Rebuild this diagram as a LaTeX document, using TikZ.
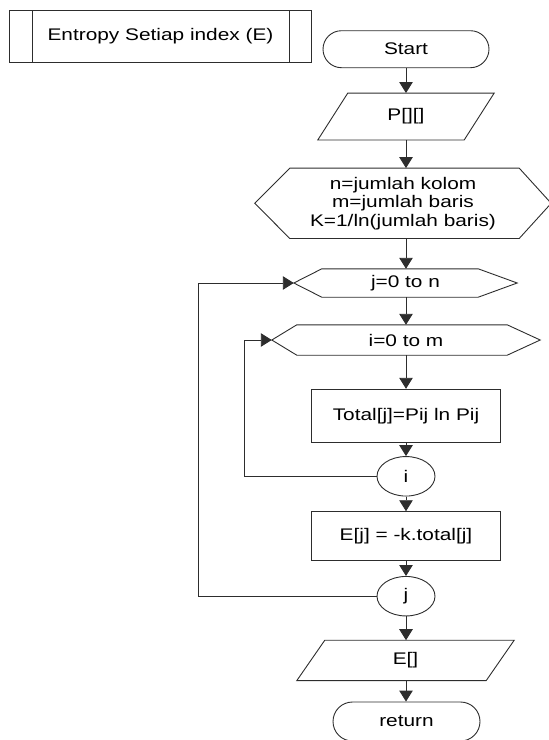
\documentclass[tikz,border=0pt]{standalone}
\usepackage{fontspec}
\setmainfont[FakeStretch=1.24]{Liberation Sans}
\usetikzlibrary{arrows.meta,shapes.misc,shapes.geometric}
\definecolor{linec}{RGB}{45,45,45}
\begin{document}
\begin{tikzpicture}[x=1pt,y=-1pt,
  ln/.style={draw=linec, line width=0.9pt},
  flow/.style={ln, -{Triangle[length=11pt,width=13.5pt]}},
  txt/.style={font=\fontsize{16.8}{18.5}\selectfont, inner sep=0pt, align=center},
  procbox/.style={txt, ln, rectangle, minimum width=189pt},
  connector/.style={txt, ln, ellipse, minimum width=58pt, minimum height=39.5pt},
  terminal/.style={txt, ln, rounded rectangle}
]
\useasboundingbox (0,0) rectangle (549,740);

% predefined process header
\node[txt, minimum width=301pt, minimum height=51.5pt] (sub) at (160.5,36.3) {Entropy Setiap index (E)};
\draw[ln] (sub.north west) rectangle (sub.south east);
\draw[ln] ([xshift=23pt]sub.north west) -- ([xshift=23pt]sub.south west);
\draw[ln] ([xshift=-22pt]sub.north east) -- ([xshift=-22pt]sub.south east);

% start
\node[terminal, minimum width=166pt, minimum height=37pt] (start) at (406,49.2) {Start};

% input P
\node[txt, minimum width=176pt, minimum height=46.5pt] (pin) at (406,116.5) {P[][]};
\draw[ln] ([xshift=30pt]pin.north west) -- (pin.north east) -- ([xshift=-30pt]pin.south east) -- (pin.south west) -- cycle;

% preparation
\node[txt, minimum width=296pt, minimum height=70pt] (prep) at (403,203.3)
  {n=jumlah kolom\\m=jumlah baris\\K=1/ln(jumlah baris)};
\draw[ln] (prep.west) -- ([xshift=35pt]prep.north west) -- ([xshift=-32pt]prep.north east)
  -- (prep.east) -- ([xshift=-32pt]prep.south east) -- ([xshift=35pt]prep.south west) -- cycle;

% loop over j
\node[txt, minimum width=223pt, minimum height=28pt] (jloop) at (405.5,283) {j=0 to n};
\draw[ln] (jloop.west) -- ([xshift=28pt]jloop.north west) -- ([xshift=-39pt]jloop.north east)
  -- (jloop.east) -- ([xshift=-39pt]jloop.south east) -- ([xshift=28pt]jloop.south west) -- cycle;

% loop over i
\node[txt, minimum width=268pt, minimum height=30pt] (iloop) at (406,340) {i=0 to m};
\draw[ln] (iloop.west) -- ([xshift=25pt]iloop.north west) -- ([xshift=-33pt]iloop.north east)
  -- (iloop.east) -- ([xshift=-33pt]iloop.south east) -- ([xshift=25pt]iloop.south west) -- cycle;

% body
\node[procbox, minimum height=53.5pt] (total) at (406,416) {Total[j]=Pij ln Pij};
\node[connector] (ci) at (406,476.3) {i};
\node[procbox, minimum height=49pt] (ej) at (406,536.2) {E[j] = -k.total[j]};
\node[connector] (cj) at (406,596.2) {j};

% output E
\node[txt, minimum width=217pt, minimum height=40pt] (eout) at (405.5,660.4) {E[]};
\draw[ln] ([xshift=28pt]eout.north west) -- (eout.north east) -- ([xshift=-28pt]eout.south east) -- (eout.south west) -- cycle;

% return
\node[terminal, minimum width=147pt, minimum height=39pt] (ret) at (406.5,721.5) {return};

% loop-back corners
\coordinate (iback) at (244,476.3);
\coordinate (jback) at (198,596.2);

% flow
\draw[flow] (start.south) -- (start.south |- pin.north);
\draw[flow] (pin.south) -- (pin.south |- prep.north);
\draw[flow] (pin.south |- prep.south) -- (pin.south |- jloop.north);
\draw[flow] (pin.south |- jloop.south) -- (pin.south |- iloop.north);
\draw[flow] (iloop.south) -- (total.north);
\draw[flow] (total.south) -- (ci.north);
\draw[flow] (ci.south) -- (ej.north);
\draw[flow] (ej.south) -- (cj.north);
\draw[flow] (cj.south) -- (cj.south |- eout.north);
\draw[flow] (cj.south |- eout.south) -- (cj.south |- ret.north);
\draw[flow] (ci.west) -- (iback) |- (iloop.west);
\draw[flow] (cj.west) -- (jback) |- (jloop.west);
\end{tikzpicture}
\end{document}
